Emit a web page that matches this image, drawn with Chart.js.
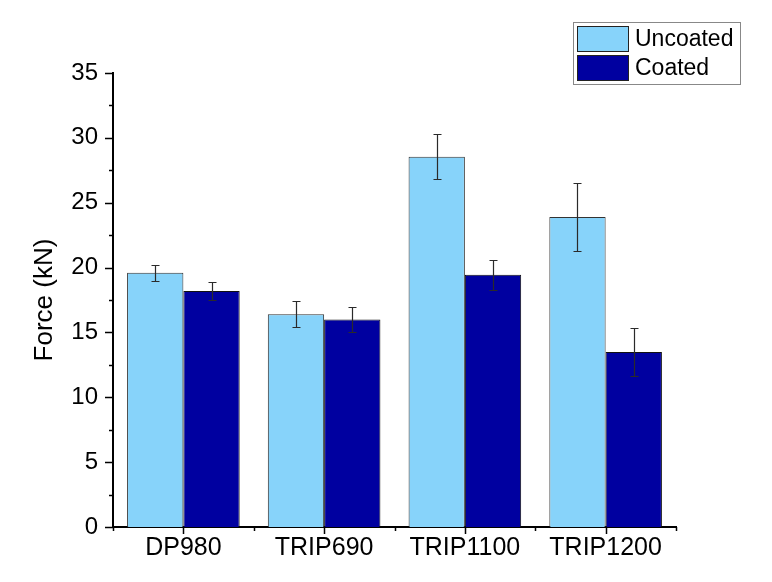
<!DOCTYPE html>
<html>
<head>
<meta charset="utf-8">
<script src="https://cdn.jsdelivr.net/npm/chart.js@4.4.1/dist/chart.umd.min.js"></script>
<style>
  html, body { margin: 0; padding: 0; background: #fff; }
  #wrap { width: 772px; height: 582px; }
</style>
</head>
<body>
<div id="wrap"><canvas id="grafico" width="772" height="582"></canvas></div>
<script>
// dati
var categorie = ['DP980', 'TRIP690', 'TRIP1100', 'TRIP1200'];
var uncoated = [19.6, 16.4, 28.55, 23.9];
var uncoatedErr = [0.6, 1.0, 1.75, 2.6];
var coated = [18.2, 16.0, 19.45, 13.5];
var coatedErr = [0.7, 0.95, 1.15, 1.85];
var yTicks = [0, 5, 10, 15, 20, 25, 30, 35];

var FONT = 'Liberation Sans, Arial, sans-serif';

// barre di errore
const errorBars = {
   id: 'errorBars',
   afterDatasetsDraw(chart) {
      const ctx = chart.ctx;
      const y = chart.scales.y;
      ctx.save();
      ctx.strokeStyle = '#2a2a2a';
      ctx.lineWidth = 1.2;
      chart.data.datasets.forEach((ds, i) => {
         const meta = chart.getDatasetMeta(i);
         meta.data.forEach((bar, j) => {
            const v = ds.data[j], e = ds.errors[j];
            const top = Math.round(y.getPixelForValue(v + e)) + 0.5;
            const bot = Math.round(y.getPixelForValue(v - e)) + 0.5;
            const x = Math.round(bar.x) + 0.5;
            ctx.beginPath();
            ctx.moveTo(x, top); ctx.lineTo(x, bot);
            ctx.moveTo(x - 4, top); ctx.lineTo(x + 4, top);
            ctx.moveTo(x - 4, bot); ctx.lineTo(x + 4, bot);
            ctx.stroke();
         });
      });
      ctx.restore();
   }
};

// tacche maggiori e minori sugli assi
const tacche = {
   id: 'tacche',
   afterDraw(chart) {
      const ctx = chart.ctx;
      const xs = chart.scales.x, ys = chart.scales.y;
      const a = chart.chartArea;
      ctx.save();
      ctx.strokeStyle = '#000';
      ctx.lineWidth = 1.5;
      ctx.beginPath();
      for (let v = 0; v <= 35; v += 2.5) {
         const py = Math.round(ys.getPixelForValue(v)) + 0.5;
         const len = (v % 5 === 0) ? 8 : 4;
         ctx.moveTo(a.left, py); ctx.lineTo(a.left - len, py);
      }
      const n = categorie.length;
      for (let i = 0; i < n; i++) {
         const px = Math.round(xs.getPixelForValue(i)) + 0.5;
         ctx.moveTo(px, a.bottom); ctx.lineTo(px, a.bottom + 7);
      }
      for (let i = 0; i <= n; i++) {
         const px = Math.round(xs.getPixelForValue(i - 0.5)) + 0.5;
         ctx.moveTo(px, a.bottom); ctx.lineTo(px, a.bottom + 4);
      }
      ctx.stroke();
      ctx.restore();
   }
};

// legenda in alto a destra
const legenda = {
   id: 'legenda',
   afterDraw(chart) {
      const ctx = chart.ctx;
      const x0 = 573, y0 = 22, w = 167, h = 62;
      ctx.save();
      ctx.fillStyle = '#fff';
      ctx.fillRect(x0, y0, w, h);
      ctx.strokeStyle = '#888';
      ctx.lineWidth = 1;
      ctx.strokeRect(x0 + 0.5, y0 + 0.5, w, h);
      ctx.font = '23px ' + FONT;
      ctx.textBaseline = 'middle';
      chart.data.datasets.forEach((ds, i) => {
         const sy = y0 + 4 + i * 29;
         ctx.fillStyle = ds.backgroundColor;
         ctx.fillRect(x0 + 4, sy, 52, 26);
         ctx.strokeStyle = '#222';
         ctx.strokeRect(x0 + 4.5, sy + 0.5, 51, 25);
         ctx.fillStyle = '#000';
         ctx.fillText(ds.label, x0 + 62, sy + 14);
      });
      ctx.restore();
   }
};

const ctx = document.getElementById('grafico').getContext('2d');
const myChart = new Chart(ctx, {
   type: 'bar',
   data: {
      labels: categorie,
      datasets: [{
         label: 'Uncoated',
         data: uncoated,
         errors: uncoatedErr,
         backgroundColor: '#87D3FA',
         borderColor: '#333',
         borderWidth: 1
      }, {
         label: 'Coated',
         data: coated,
         errors: coatedErr,
         backgroundColor: '#0000A0',
         borderColor: '#111',
         borderWidth: 1
      }]
   },
   options: {
      responsive: false,
      animation: false,
      events: [],
      layout: { padding: { top: 73, right: 96, left: 0, bottom: 0 } },
      datasets: { bar: { categoryPercentage: 0.8, barPercentage: 1.0 } },
      plugins: { legend: { display: false }, tooltip: { enabled: false } },
      scales: {
         x: {
            offset: true,
            grid: { display: false, drawTicks: false },
            border: { display: true, color: '#000', width: 2 },
            ticks: { color: '#000', font: { family: FONT, size: 25 }, padding: 6, maxRotation: 0 },
            afterFit: function (scale) { scale.height = 55; }
         },
         y: {
            min: 0,
            max: 35,
            grid: { display: false, drawTicks: false },
            border: { display: true, color: '#000', width: 2 },
            afterBuildTicks: function (scale) {
               scale.ticks = yTicks.map(v => ({ value: v }));
            },
            ticks: { color: '#000', font: { family: FONT, size: 24 }, padding: 15 },
            title: {
               display: true,
               text: 'Force (kN)',
               color: '#000',
               font: { family: FONT, size: 26 },
               padding: { top: 29, bottom: 0 }
            },
            afterFit: function (scale) { scale.width = 113; }
         }
      }
   },
   plugins: [errorBars, tacche, legenda]
});
</script>
</body>
</html>
